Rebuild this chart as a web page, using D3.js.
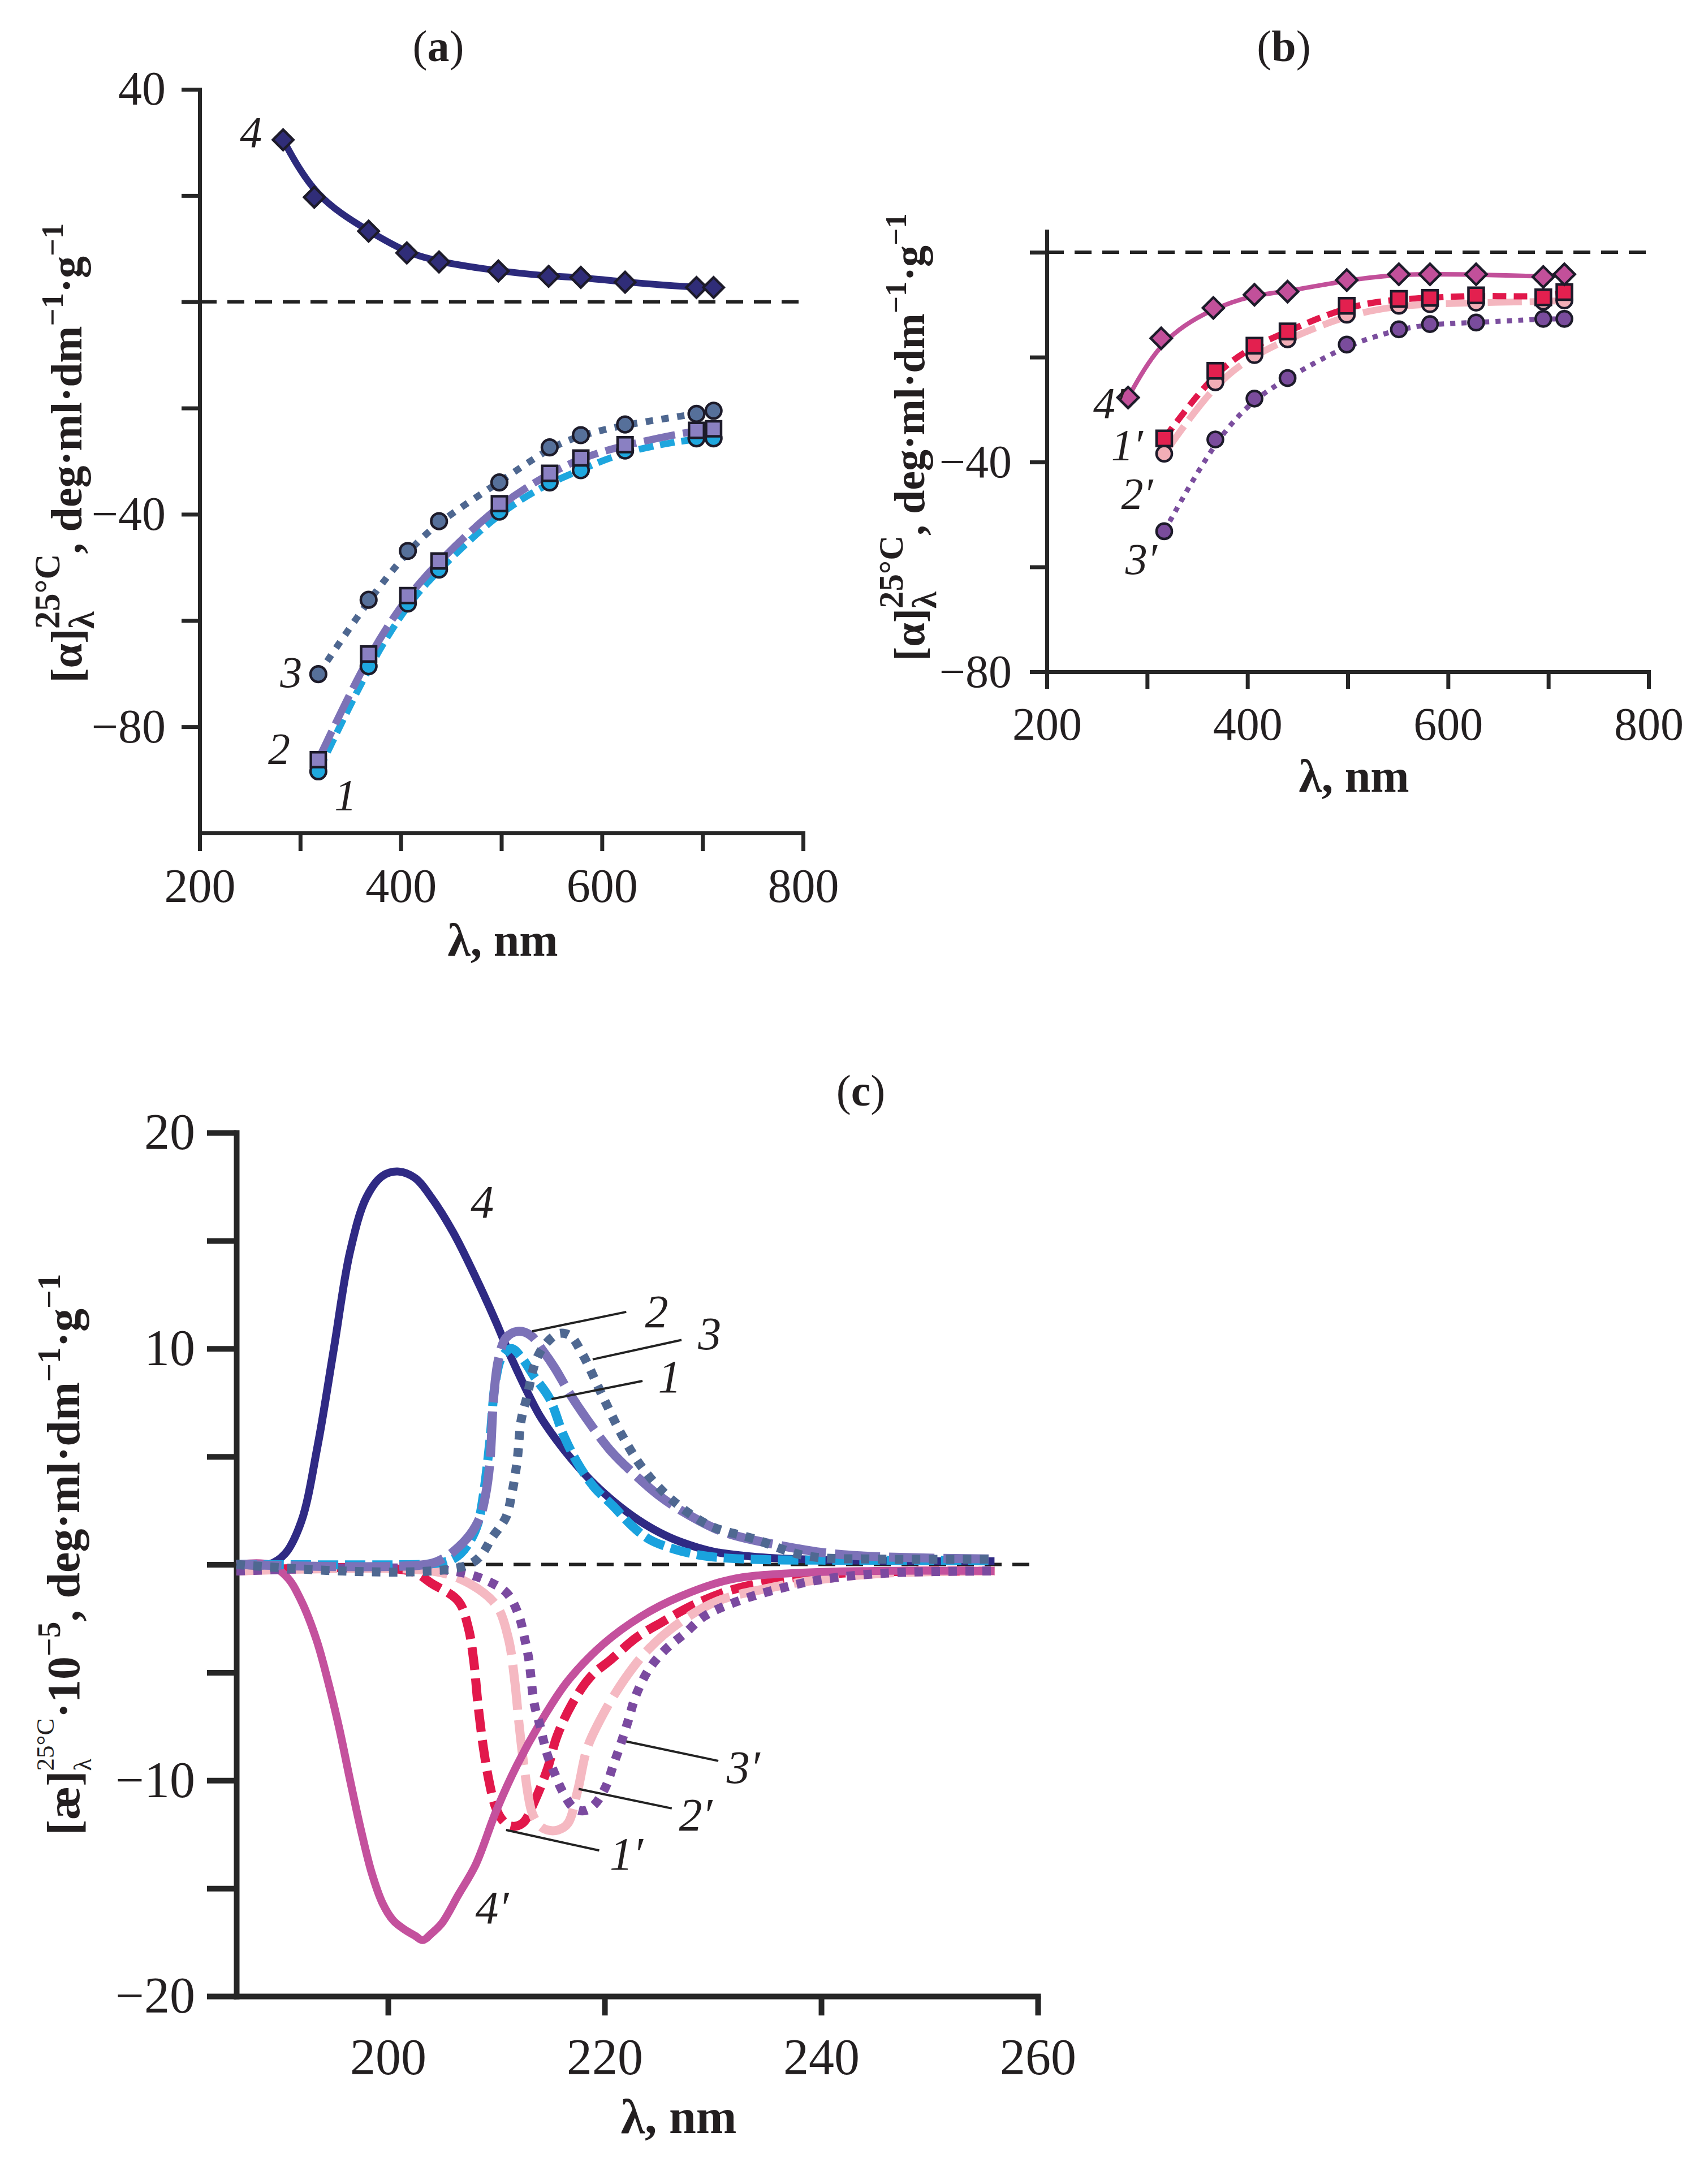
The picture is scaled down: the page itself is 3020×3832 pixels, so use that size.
<!DOCTYPE html>
<html>
<head>
<meta charset="utf-8">
<script src="https://cdn.jsdelivr.net/npm/d3@7"></script>
<style>
  body { margin: 0; background: #fff; }
  svg { display: block; }
  text { font-family: "Liberation Serif", "Times New Roman", serif; fill: #231f20; }
</style>
</head>
<body>
<div id="chart"></div>
<script>
// ---- panel (a): specific rotation vs wavelength ----
const lamA4 = [283, 314, 368, 406, 438, 497, 547, 579, 623, 694, 711];
const rotA4 = [30.5, 19.7, 13.3, 9.2, 7.5, 5.8, 4.8, 4.6, 3.7, 2.7, 2.7];
const lamA = [318, 368, 407, 438, 498, 548, 579, 623, 694, 711];
const rotA3 = [-70.1, -56.1, -46.9, -41.3, -34.0, -27.4, -25.1, -23.1, -21.1, -20.5];
const rotA2 = [-86.2, -66.3, -55.3, -48.8, -38.0, -32.3, -29.4, -26.9, -24.2, -23.9];
const rotA1 = [-88.4, -68.6, -56.8, -50.4, -39.5, -34.0, -31.7, -28.0, -25.7, -25.7];

// ---- panel (b) ----
const lamB4 = [281, 314, 366, 407, 440, 499, 551, 582, 628, 695, 716];
const rotB4 = [-27.7, -16.4, -10.6, -8.1, -7.5, -5.3, -4.2, -4.2, -4.2, -4.7, -4.2];
const lamB = [317, 368, 407, 440, 499, 551, 582, 628, 695, 716];
const rotB1 = [-35.5, -22.6, -17.8, -15.1, -10.2, -8.9, -8.7, -8.2, -8.6, -7.6];
const rotB2 = [-38.4, -24.8, -19.6, -16.6, -11.9, -10.2, -9.9, -9.6, -9.4, -9.2];
const rotB3 = [-53.2, -35.7, -27.9, -24.0, -17.6, -14.7, -13.7, -13.4, -12.7, -12.7];

// ---- panel (c): values x10^-5 ----
const lamC4 = [186, 189, 190.5, 192, 193.5, 195, 196.5, 198, 199.5, 201, 202.5, 204, 206, 208, 210, 211, 212, 213, 214, 215.5, 217, 219, 221, 223, 225, 227, 230, 234, 241, 256];
const valC4 = [0, 0, 0.5, 2, 5.5, 10, 14.5, 17, 18, 18.2, 17.9, 17.0, 15.4, 13.4, 11.2, 10.0, 8.9, 7.85, 6.9, 5.8, 4.85, 3.75, 2.85, 2.1, 1.5, 1.05, 0.6, 0.35, 0.2, 0.15];
const lamC1 = [186, 203, 204.4, 205.8, 206.7, 207.6, 208.3, 208.8, 209.4, 209.9, 210.5, 211.4, 212.3, 213.5, 214.9, 216.2, 217.5, 219, 220.8, 222.5, 224.1, 226.5, 229.2, 233, 240, 256];
const valC1 = [0, 0, 0.05, 0.2, 0.5, 1.1, 1.9, 3.2, 5.7, 8.4, 9.6, 10.0, 9.6, 8.7, 7.7, 6.0, 4.7, 3.6, 2.7, 1.8, 1.17, 0.7, 0.4, 0.25, 0.2, 0.2];
const lamC2 = [186, 203.5, 205.2, 206.5, 207.6, 208.5, 209.0, 209.4, 209.75, 210.2, 210.9, 212.0, 213.2, 214.3, 215.4, 216.8, 218.4, 220.5, 222.7, 225, 227.4, 231, 236.3, 242, 256];
const valC2 = [0, 0, 0.3, 0.8, 1.4, 2.2, 3.2, 4.7, 7.7, 9.5, 10.5, 10.8, 10.6, 9.9, 9.1, 7.9, 6.7, 5.3, 4.2, 3.2, 2.4, 1.5, 0.87, 0.45, 0.25];
const lamC3 = [186, 207.5, 209.75, 210.9, 211.4, 211.9, 212.3, 212.8, 213.7, 214.7, 215.8, 216.8, 218.0, 219.9, 221.7, 223.6, 226.2, 229.7, 233.7, 238.6, 245, 256];
const valC3 = [0, 0, 1.35, 2.2, 3.2, 4.7, 6.7, 7.7, 9.5, 10.3, 10.7, 10.6, 9.7, 7.7, 5.9, 4.4, 3.0, 1.8, 1.2, 0.4, 0.25, 0.25];
const lamC4p = [186, 189, 190.7, 192, 193.4, 194.5, 195.5, 196.5, 197.5, 198.5, 199.5, 200.5, 201.5, 202.5, 203.2, 204, 205, 206.5, 208.1, 210, 211.9, 214.4, 216.6, 219.85, 223.4, 226.9, 231.6, 237.4, 245, 256];
const valC4p = [0, 0, -0.6, -1.7, -3.5, -5.5, -7.6, -10, -12.3, -14.3, -15.7, -16.5, -16.9, -17.2, -17.4, -17.1, -16.6, -15.3, -13.9, -11.4, -9.3, -7.05, -5.4, -3.7, -2.4, -1.5, -0.7, -0.4, -0.3, -0.3];
const lamC1p = [186, 202, 204.1, 206.5, 207.4, 207.9, 208.3, 208.8, 209.3, 209.9, 210.5, 211.2, 212.0, 212.6, 213.5, 214.7, 215.6, 217.0, 218.7, 220.6, 222.9, 225.2, 228.1, 231.6, 236.3, 242, 256];
const valC1p = [-0.3, -0.3, -0.9, -1.7, -2.9, -4.4, -6.45, -8.47, -9.97, -11.2, -11.8, -12.1, -12.1, -11.9, -11.0, -9.5, -7.96, -6.45, -5.2, -4.4, -3.4, -2.7, -1.9, -1.2, -0.7, -0.4, -0.3];
const lamC2p = [186, 204, 207.2, 210.0, 211.1, 211.7, 212.1, 212.6, 213.3, 214.0, 214.7, 215.7, 216.6, 217.5, 218.4, 219.85, 222.0, 224.1, 226.9, 230.4, 235.1, 239.8, 246, 256];
const valC2p = [-0.3, -0.3, -0.8, -1.9, -3.4, -5.4, -7.4, -9.5, -11.5, -12.1, -12.3, -12.3, -12.0, -10.5, -8.5, -6.95, -5.2, -3.9, -2.7, -1.7, -1.1, -0.7, -0.4, -0.3];
const lamC3p = [186, 206, 209.75, 211.1, 212.1, 212.6, 213.0, 213.5, 214.0, 214.7, 215.4, 216.1, 217.2, 218.2, 219.1, 220.1, 220.8, 221.5, 222.2, 222.9, 224.1, 225.7, 227.4, 229.2, 232.3, 236.3, 240, 246, 256];
const valC3p = [-0.3, -0.3, -0.9, -1.4, -2.4, -3.4, -4.4, -6.45, -7.4, -8.8, -9.7, -10.5, -11.3, -11.4, -11.1, -10.3, -9.3, -8.3, -7.2, -6.05, -4.85, -3.9, -3.2, -2.4, -1.7, -1.1, -0.7, -0.4, -0.3];

const W = 3020, H = 3832;
const svg = d3.select("#chart").append("svg").attr("width", W).attr("height", H);
svg.append("rect").attr("width", W).attr("height", H).attr("fill", "#fff");

const zip = (lam, val) => lam.map((l, i) => ({ l, v: val[i] }));

// axes with only some ticks labelled
function drawAxes(g, x, y, cfg) {
  const fmt = d3.format("d");
  const xa = g.append("g")
    .attr("transform", `translate(0,${y.range()[0]})`)
    .call(d3.axisBottom(x).tickValues(cfg.xTicks)
      .tickFormat(d => cfg.xLabels.includes(d) ? fmt(d) : "")
      .tickSize(cfg.xTick).tickSizeOuter(0).tickPadding(cfg.xPad));
  const ya = g.append("g")
    .attr("transform", `translate(${x.range()[0]},0)`)
    .call(d3.axisLeft(y).tickValues(cfg.yTicks)
      .tickFormat(d => cfg.yLabels.includes(d) ? fmt(d) : "")
      .tickSize(cfg.yTick).tickSizeOuter(0).tickPadding(cfg.yPad));
  [xa, ya].forEach(a => {
    a.attr("font-family", "Liberation Serif, serif").attr("font-size", cfg.font);
    a.select(".domain").attr("stroke", "#262626").attr("stroke-width", cfg.axisW).attr("stroke-linecap", "square");
    a.selectAll(".tick line").attr("stroke", "#262626").attr("stroke-width", cfg.axisW);
    a.selectAll(".tick text").attr("fill", "#231f20");
  });
}

function zeroLine(g, x, y, x0, x1) {
  g.append("line")
    .attr("x1", x(x0)).attr("x2", x(x1)).attr("y1", y(0)).attr("y2", y(0))
    .attr("stroke", "#222").attr("stroke-width", 6).attr("stroke-dasharray", "30,19");
}

function drawLine(g, x, y, pts, st, curve) {
  g.append("path").datum(pts)
    .attr("fill", "none").attr("stroke", st.color).attr("stroke-width", st.width)
    .attr("stroke-dasharray", st.dash || null).attr("stroke-linecap", "butt")
    .attr("stroke-linejoin", "round")
    .attr("d", d3.line().x(d => x(d.l)).y(d => y(d.v)).curve(curve));
}

function drawMarkers(g, x, y, pts, st) {
  const shape = st.marker === "circle" ? d3.symbolCircle : d3.symbolSquare;
  g.selectAll(null).data(pts).enter().append("path")
    .attr("d", d3.symbol(shape, st.size))
    .attr("transform", d => `translate(${x(d.l)},${y(d.v)})` + (st.marker === "diamond" ? " rotate(45)" : ""))
    .attr("fill", st.fill).attr("stroke", "#1d1b2a").attr("stroke-width", 4.5);
}

function curveLabel(g, x, y, txt, l, v, fs) {
  g.append("text").attr("x", x(l)).attr("y", y(v))
    .attr("text-anchor", "middle").attr("dominant-baseline", "central")
    .attr("font-style", "italic").attr("font-size", fs).text(txt);
}

function leader(g, x, y, l0, v0, l1, v1) {
  g.append("line").attr("x1", x(l0)).attr("y1", y(v0)).attr("x2", x(l1)).attr("y2", y(v1))
    .attr("stroke", "#222").attr("stroke-width", 4);
}

// rotated axis title built from pieces (text / stacked sup+sub)
function richLabel(g, bx, cy, parts, fs) {
  const lg = g.append("g").attr("transform", `translate(${bx},${cy}) rotate(-90)`);
  const inner = lg.append("g");
  let xp = 0;
  parts.forEach(p => {
    if (p.t !== undefined) {
      const t = inner.append("text").attr("x", xp).attr("y", 0)
        .attr("font-size", fs).attr("font-weight", "bold").text(p.t);
      xp += t.node().getComputedTextLength();
    } else {
      const sc = p.scale || 0.75;
      let w = 0;
      if (p.sup) {
        const t = inner.append("text").attr("x", xp).attr("y", -fs * (p.up || 0.42))
          .attr("font-size", fs * sc).attr("font-weight", p.weight || "bold").text(p.sup);
        w = Math.max(w, t.node().getComputedTextLength());
      }
      if (p.sub) {
        const t = inner.append("text").attr("x", xp).attr("y", fs * (p.down || 0.22))
          .attr("font-size", fs * sc).attr("font-weight", p.weight || "bold").text(p.sub);
        w = Math.max(w, t.node().getComputedTextLength());
      }
      xp += w + (p.gap || 0);
    }
  });
  inner.attr("transform", `translate(${-xp / 2},0)`);
}

function title(g, cx, by, letter, fs) {
  const t = g.append("text").attr("x", cx).attr("y", by).attr("text-anchor", "middle").attr("font-size", fs);
  t.append("tspan").text("(");
  t.append("tspan").attr("font-weight", "bold").text(letter);
  t.append("tspan").text(")");
}

function xTitle(g, cx, by, fs) {
  g.append("text").attr("x", cx).attr("y", by).attr("text-anchor", "middle")
    .attr("font-size", fs).attr("font-weight", "bold").text("λ, nm");
}

// ================= panel (a) =================
{
  const g = svg.append("g");
  const x = d3.scaleLinear().domain([200, 800]).range([353, 1420]);
  const y = d3.scaleLinear().domain([-100, 40]).range([1473, 158]);
  drawAxes(g, x, y, {
    xTicks: [200, 300, 400, 500, 600, 700, 800], xLabels: [200, 400, 600, 800],
    yTicks: [40, 20, 0, -20, -40, -60, -80], yLabels: [40, -40, -80],
    xTick: 32, yTick: 32, xPad: 30, yPad: 28, font: 84, axisW: 7
  });
  zeroLine(g, x, y, 200, 800);
  const series = [
    { lam: lamA, val: rotA1, color: "#1ea6de", fill: "#1fa8df", dash: "26,12", marker: "circle", size: 600, w: 12 },
    { lam: lamA, val: rotA2, color: "#7d72b6", fill: "#8a80c2", dash: "56,14", marker: "square", size: 700, w: 13 },
    { lam: lamA, val: rotA3, color: "#4e6790", fill: "#56709a", dash: "13,15", marker: "circle", size: 600, w: 12 },
    { lam: lamA4, val: rotA4, color: "#2c2a7c", fill: "#302d78", dash: null, marker: "diamond", size: 650, w: 12 }
  ];
  series.forEach(s => drawLine(g, x, y, zip(s.lam, s.val), { color: s.color, width: s.w, dash: s.dash }, d3.curveBasis));
  series.forEach(s => drawMarkers(g, x, y, zip(s.lam, s.val), s));
  curveLabel(g, x, y, "4", 251, 32, 78);
  curveLabel(g, x, y, "3", 291, -69.7, 78);
  curveLabel(g, x, y, "2", 279, -84.1, 78);
  curveLabel(g, x, y, "1", 345, -92.8, 78);
  title(g, 775, 108, "a", 78);
  xTitle(g, 889, 1690, 82);
  richLabel(g, 144, 801, [
    { t: "[α]" }, { sup: "25°C", sub: "λ", scale: 0.8, up: 0.5, down: 0.28 },
    { t: ", deg·ml·dm" }, { sup: "−1", scale: 0.7 }, { t: "·g" }, { sup: "−1", scale: 0.7 }
  ], 78);
}

// ================= panel (b) =================
{
  const g = svg.append("g");
  const x = d3.scaleLinear().domain([200, 800]).range([1851, 2915]);
  const y = d3.scaleLinear().domain([-80, 4]).range([1188, 409]);
  drawAxes(g, x, y, {
    xTicks: [200, 300, 400, 500, 600, 700, 800], xLabels: [200, 400, 600, 800],
    yTicks: [0, -20, -40, -60, -80], yLabels: [-40, -80],
    xTick: 30, yTick: 30, xPad: 32, yPad: 32, font: 82, axisW: 7
  });
  zeroLine(g, x, y, 200, 800);
  const series = [
    { lam: lamB, val: rotB2, color: "#f4b6bf", fill: "#f2aeb7", dash: "60,14", marker: "circle", size: 580, w: 12 },
    { lam: lamB, val: rotB1, color: "#e1184b", fill: "#e3204f", dash: "24,13", marker: "square", size: 730, w: 11 },
    { lam: lamB, val: rotB3, color: "#7b4e9e", fill: "#7a4c9c", dash: "9,11", marker: "circle", size: 580, w: 9 },
    { lam: lamB4, val: rotB4, color: "#c2509a", fill: "#c2509a", dash: null, marker: "diamond", size: 690, w: 8 }
  ];
  series.forEach(s => drawLine(g, x, y, zip(s.lam, s.val), { color: s.color, width: s.w, dash: s.dash }, d3.curveBasis));
  series.forEach(s => drawMarkers(g, x, y, zip(s.lam, s.val), s));
  curveLabel(g, x, y, "4′", 262, -28.7, 78);
  curveLabel(g, x, y, "1′", 280, -36.7, 78);
  curveLabel(g, x, y, "2′", 290, -46, 78);
  curveLabel(g, x, y, "3′", 294, -58.5, 78);
  title(g, 2270, 108, "b", 78);
  xTitle(g, 2394, 1400, 82);
  richLabel(g, 1634, 773, [
    { t: "[α]" }, { sup: "25°C", sub: "λ", scale: 0.8, up: 0.5, down: 0.28 },
    { t: ", deg·ml·dm" }, { sup: "−1", scale: 0.7 }, { t: "·g" }, { sup: "−1", scale: 0.7 }
  ], 76);
}

// ================= panel (c) =================
{
  const g = svg.append("g");
  const x = d3.scaleLinear().domain([186, 260]).range([418, 1835]);
  const y = d3.scaleLinear().domain([-20, 20]).range([3530, 2003]);
  drawAxes(g, x, y, {
    xTicks: [200, 220, 240, 260], xLabels: [200, 220, 240, 260],
    yTicks: [20, 15, 10, 5, 0, -5, -10, -15, -20], yLabels: [20, 10, -10, -20],
    xTick: 34, yTick: 52, xPad: 40, yPad: 21, font: 90, axisW: 10
  });
  zeroLine(g, x, y, 186, 259.5);
  const curve = d3.curveCatmullRom.alpha(0.5);
  const neg = [
    { lam: lamC1p, val: valC1p, color: "#e2184b", dash: "40,15" },
    { lam: lamC2p, val: valC2p, color: "#f5b9c2", dash: "80,18" },
    { lam: lamC4p, val: valC4p, color: "#c4519d", dash: null },
    { lam: lamC3p, val: valC3p, color: "#7b4aa0", dash: "15,15" }
  ];
  const pos = [
    { lam: lamC4, val: valC4, color: "#2f2a84", dash: null },
    { lam: lamC1, val: valC1, color: "#1aa2de", dash: "36,12" },
    { lam: lamC2, val: valC2, color: "#7c72b8", dash: "80,16" },
    { lam: lamC3, val: valC3, color: "#4f6891", dash: "15,15" }
  ];
  neg.concat(pos).forEach(s => drawLine(g, x, y, zip(s.lam, s.val),
    { color: s.color, width: s.dash ? 16 : 14, dash: s.dash }, curve));
  curveLabel(g, x, y, "4", 208.7, 16.8, 82);
  curveLabel(g, x, y, "2", 224.8, 11.7, 82);
  curveLabel(g, x, y, "3", 229.7, 10.7, 82);
  curveLabel(g, x, y, "1", 226.0, 8.7, 82);
  curveLabel(g, x, y, "3′", 232.8, -9.4, 82);
  curveLabel(g, x, y, "2′", 228.4, -11.6, 82);
  curveLabel(g, x, y, "1′", 222.0, -13.4, 82);
  curveLabel(g, x, y, "4′", 209.6, -15.9, 82);
  leader(g, x, y, 213.3, 10.8, 222.0, 11.7);
  leader(g, x, y, 218.9, 9.5, 227.1, 10.4);
  leader(g, x, y, 215.1, 7.66, 223.5, 8.5);
  leader(g, x, y, 222.0, -8.2, 230.5, -9.1);
  leader(g, x, y, 217.6, -10.4, 226.2, -11.3);
  leader(g, x, y, 210.9, -12.3, 219.5, -13.25);
  title(g, 1522, 1955, "c", 78);
  xTitle(g, 1200, 3772, 86);
  richLabel(g, 140, 2749, [
    { t: "[æ]" }, { sup: "25°C", sub: "λ", scale: 0.55, up: 0.55, down: 0.25, weight: "normal" },
    { t: "·10" }, { sup: "−5", scale: 0.7 }, { t: ",  deg·ml·dm" }, { sup: "−1", scale: 0.7 },
    { t: "·g" }, { sup: "−1", scale: 0.7 }
  ], 82);
}
</script>
</body>
</html>
